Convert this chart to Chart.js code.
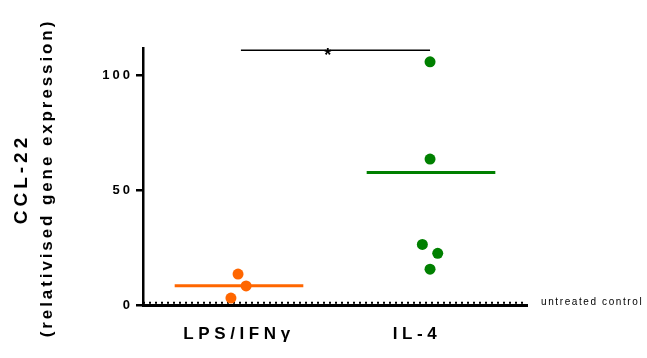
<!DOCTYPE html>
<html>
<head>
<meta charset="utf-8">
<script src="https://cdn.jsdelivr.net/npm/chart.js@4/dist/chart.umd.min.js"></script>
<style>
  html, body { margin: 0; padding: 0; background: #fff; }
  #wrap { width: 647px; height: 358px; }
</style>
</head>
<body>
<div id="wrap"><canvas id="c" width="647" height="358"></canvas></div>
<script>
// ---- data ----
const categories = ['LPS/IFNγ', 'IL-4'];
const yTitleLines = ['CCL-22', '(relativised gene expression)'];
const yTickValues = [0, 50, 100];
const lpsValues = [13.5, 8.3, 3.0];
const lpsJitter = [-0.005, 0.037, -0.042];
const il4Values = [106, 63.6, 26.4, 22.5, 15.6];
const il4Jitter = [-0.005, -0.005, -0.045, 0.035, -0.005];
const groupMeans = [8.4, 57.7];
const controlLevel = 1;
const controlLabel = 'untreated control';
const significanceLabel = '*';
const significanceLevel = 111;

const FONT = '"Liberation Sans", Arial, sans-serif';
const ORANGE = '#ff6600';
const GREEN = '#008000';
const HALF = 0.335;
const labelPad = ['', '   '];

const pts = (vals, jit, cat) => vals.map((v, i) => ({ x: cat + jit[i], y: v }));

const annot = {
  id: 'annot',
  beforeDraw(chart) { chart.ctx.letterSpacing = '3px'; },
  afterDatasetsDraw(chart) { chart.ctx.letterSpacing = '4.6px'; },
  afterDraw(chart) {
    const { ctx, scales: { x, y } } = chart;
    ctx.save();
    ctx.fillStyle = '#000';
    // y titles
    ctx.save();
    ctx.translate(22, 179);
    ctx.rotate(-Math.PI / 2);
    ctx.textAlign = 'center';
    ctx.textBaseline = 'middle';
    ctx.letterSpacing = '4px';
    ctx.font = 'bold 19px ' + FONT;
    ctx.fillText(yTitleLines[0], 0, 0);
    ctx.restore();
    ctx.save();
    ctx.translate(47, 178);
    ctx.rotate(-Math.PI / 2);
    ctx.textAlign = 'center';
    ctx.textBaseline = 'middle';
    ctx.letterSpacing = '2.9px';
    ctx.font = 'bold 17px ' + FONT;
    ctx.fillText(yTitleLines[1], 0, 0);
    ctx.restore();
    // control label
    ctx.letterSpacing = '1.6px';
    ctx.font = '10px ' + FONT;
    ctx.textAlign = 'left';
    ctx.textBaseline = 'middle';
    ctx.fillText(controlLabel, x.right + 14, y.getPixelForValue(controlLevel));
    // significance asterisk
    ctx.letterSpacing = '0px';
    ctx.font = 'bold 18px ' + FONT;
    ctx.textAlign = 'center';
    ctx.textBaseline = 'alphabetic';
    ctx.fillText(significanceLabel, x.getPixelForValue(1.462), y.getPixelForValue(significanceLevel) + 11);
    ctx.restore();
    ctx.letterSpacing = '0px';
  }
};

new Chart(document.getElementById('c'), {
  type: 'scatter',
  data: {
    datasets: [
      { data: pts(lpsValues, lpsJitter, 1), backgroundColor: ORANGE, borderColor: ORANGE, pointRadius: 5.5, pointBorderWidth: 0, order: 0 },
      { data: pts(il4Values, il4Jitter, 2), backgroundColor: GREEN, borderColor: GREEN, pointRadius: 5.5, pointBorderWidth: 0, order: 0 },
      { data: [{ x: 1 - HALF, y: groupMeans[0] }, { x: 1 + HALF, y: groupMeans[0] }], showLine: true, pointRadius: 0, borderColor: ORANGE, borderWidth: 3, order: 1 },
      { data: [{ x: 2 - HALF, y: groupMeans[1] }, { x: 2 + HALF, y: groupMeans[1] }], showLine: true, pointRadius: 0, borderColor: GREEN, borderWidth: 3, order: 1 },
      { data: [{ x: 0.5, y: controlLevel }, { x: 2.5, y: controlLevel }], showLine: true, pointRadius: 0, borderColor: '#000', borderWidth: 2, borderDash: [2, 4], order: 2 },
      { data: [{ x: 1.01, y: significanceLevel }, { x: 1.995, y: significanceLevel }], showLine: true, pointRadius: 0, borderColor: '#000', borderWidth: 1.5, clip: 8, order: 2 }
    ]
  },
  options: {
    responsive: false,
    animation: false,
    events: [],
    layout: { padding: { top: 48, right: 120, left: 0, bottom: 0 } },
    plugins: { legend: { display: false }, tooltip: { enabled: false } },
    scales: {
      x: {
        type: 'linear', min: 0.5, max: 2.5,
        afterBuildTicks: s => { s.ticks = categories.map((c, i) => ({ value: i + 1 })); },
        afterFit: s => { s.height = 53; },
        grid: { display: true, drawOnChartArea: false, drawTicks: false, color: 'rgba(0,0,0,0)' },
        border: { display: true, color: '#000', width: 3 },
        ticks: {
          z: 1, padding: 19, color: '#000', maxRotation: 0, autoSkip: false,
          font: { family: FONT, size: 17, weight: 'bold' },
          callback: v => { const i = Math.round(v) - 1; return categories[i] ? categories[i] + labelPad[i] : ''; }
        }
      },
      y: {
        type: 'linear', min: 0, max: 112,
        afterBuildTicks: s => { s.ticks = yTickValues.map(v => ({ value: v })); },
        afterFit: s => { s.width = 143; },
        grid: { display: true, drawOnChartArea: false, drawTicks: true, tickLength: 7, color: '#000', lineWidth: 2.5 },
        border: { display: true, color: '#000', width: 2.5 },
        ticks: {
          z: 0, padding: 3, color: '#000',
          font: { family: FONT, size: 13, weight: 'bold' }
        }
      }
    }
  },
  plugins: [annot]
});
</script>
</body>
</html>
